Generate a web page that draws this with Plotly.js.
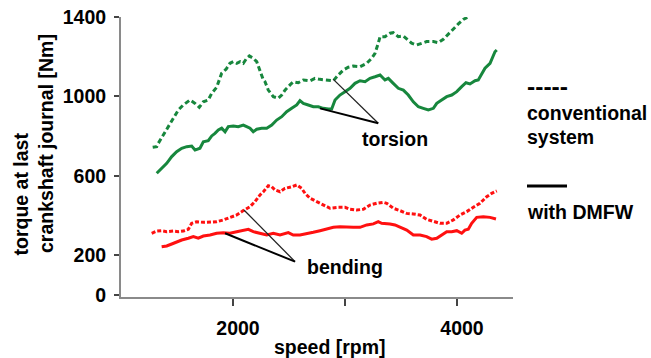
<!DOCTYPE html>
<html><head><meta charset="utf-8">
<script src="https://cdn.plot.ly/plotly-3.0.1.min.js"></script>
<style>html,body{margin:0;padding:0;background:#fff;}#chart{width:651px;height:358px;}</style>
</head><body><div id="chart"></div>
<script>
// ---- data ----
const torsionConvRpm = [1283,1319,1333,1378,1422,1467,1512,1556,1616,1661,1699,1735,1779,1810,1854,1899,1938,1973,2003,2033,2063,2092,2122,2146,2181,2212,2241,2271,2286,2315,2360,2404,2435,2464,2509,2538,2583,2628,2688,2732,2777,2837,2896,2940,2985,3029,3074,3134,3194,3238,3268,3297,3313,3357,3402,3431,3476,3521,3565,3595,3640,3685,3729,3789,3833,3878,3922,3967,4012,4056,4092];
const torsionConvNm = [744,747,764,806,848,890,932,957,982,965,945,973,982,1016,1046,1117,1137,1167,1175,1167,1175,1167,1192,1204,1192,1175,1133,1083,1074,1032,999,991,1007,1032,1058,1074,1069,1083,1079,1091,1086,1083,1079,1108,1133,1147,1153,1150,1167,1192,1217,1268,1301,1301,1318,1321,1301,1304,1284,1268,1259,1268,1276,1276,1271,1288,1314,1343,1365,1388,1398];

const torsionDmfwRpm = [1319,1363,1408,1453,1497,1542,1587,1631,1661,1705,1735,1779,1810,1839,1869,1899,1929,1958,2003,2047,2092,2122,2152,2181,2212,2256,2301,2346,2390,2435,2479,2524,2569,2598,2628,2672,2717,2762,2806,2851,2881,2911,2955,3000,3045,3089,3134,3179,3223,3268,3313,3357,3387,3431,3476,3521,3565,3610,3655,3699,3744,3789,3819,3863,3908,3953,3998,4042,4080,4116,4161,4190,4221,4250,4295,4324,4339,4355];
const torsionDmfwNm = [613,638,663,697,722,739,747,750,730,739,772,777,801,814,831,840,822,848,851,848,856,848,840,822,835,840,840,856,881,898,923,940,957,979,965,957,948,948,940,937,937,982,1007,1024,1041,1066,1079,1074,1091,1099,1108,1083,1091,1066,1041,1032,1007,973,948,940,932,940,965,982,999,1007,1024,1049,1069,1063,1079,1083,1117,1142,1167,1200,1225,1234];

const bendingConvRpm = [1274,1319,1363,1408,1467,1512,1556,1601,1631,1676,1735,1795,1854,1913,1973,2033,2092,2152,2196,2241,2271,2315,2346,2375,2420,2464,2524,2569,2613,2643,2688,2747,2806,2866,2940,3000,3045,3104,3164,3223,3283,3342,3372,3431,3491,3551,3610,3670,3729,3789,3848,3908,3967,4027,4087,4146,4205,4265,4310,4355];
const bendingConvNm = [311,322,324,319,322,319,322,331,361,369,366,366,369,378,389,403,425,445,470,504,520,550,545,529,520,537,545,554,537,512,487,470,453,437,442,442,432,428,432,453,462,467,462,437,425,411,408,403,381,369,361,361,378,403,420,442,462,495,512,524];

const bendingDmfwRpm = [1363,1408,1453,1497,1542,1601,1646,1690,1735,1795,1854,1913,1973,2033,2092,2137,2181,2241,2301,2360,2420,2494,2538,2598,2658,2717,2777,2837,2896,2955,3015,3074,3134,3194,3253,3297,3327,3357,3402,3446,3491,3551,3610,3670,3729,3774,3819,3863,3908,3953,3998,4042,4071,4101,4131,4176,4235,4295,4348];
const bendingDmfwNm = [243,247,257,268,277,286,294,286,297,302,311,314,311,319,327,331,319,311,302,311,302,314,302,302,311,316,324,332,341,344,341,341,341,353,358,369,361,361,358,353,341,327,302,302,294,281,286,302,319,319,324,311,327,331,361,391,394,391,383];

// leader lines: [end on dashed curve, label apex, end on solid curve]
const torsionLeaderRpm = [2896, 3297, 2777];
const torsionLeaderNm  = [1086, 865, 940];
const bendingLeaderRpm = [2098, 2554, 1929];
const bendingLeaderNm  = [428, 168, 311];

const yTickVals = [0, 200, 600, 1000, 1400];
const yTickText = ['0', '200', '600', '1000', '1400'];
const xTickVals = [2000, 3000, 4000];
const xTickText = ['2000', '', '4000'];

const labelTexts = {torsion: 'torsion', bending: 'bending'};
const labelPosRpm = [3446, 3000];
const labelPosNm  = [786, 141];

// ---- styling ----
const FONT = 'Liberation Sans, Arial, Helvetica, sans-serif';
const FS = 19.5;
const GREEN = '#17873d';
const RED = '#ff1010';
const L = 121, R = 138, T = 17, B = 61, W = 651, H = 358;
const PW = W - L - R, PH = H - T - B;
const px = x => (x - L) / PW;
const py = y => (H - B - y) / PH;

const traces = [
  {x: torsionConvRpm, y: torsionConvNm, mode: 'lines', line: {color: GREEN, width: 3, dash: '5px,3px'}},
  {x: torsionDmfwRpm, y: torsionDmfwNm, mode: 'lines', line: {color: GREEN, width: 3}},
  {x: bendingConvRpm, y: bendingConvNm, mode: 'lines', line: {color: RED, width: 3, dash: '4px,2px'}},
  {x: bendingDmfwRpm, y: bendingDmfwNm, mode: 'lines', line: {color: RED, width: 3}}
];

function leader(xs, ys, i, w, c) {
  return {type: 'line', xref: 'x', yref: 'y', x0: xs[1], y0: ys[1], x1: xs[i], y1: ys[i], line: {color: c, width: w}};
}
const shapes = [
  leader(torsionLeaderRpm, torsionLeaderNm, 0, 1.3, '#222'),
  leader(torsionLeaderRpm, torsionLeaderNm, 2, 2, '#000'),
  leader(bendingLeaderRpm, bendingLeaderNm, 0, 1.3, '#222'),
  leader(bendingLeaderRpm, bendingLeaderNm, 2, 2, '#000'),
  {type: 'line', xref: 'paper', yref: 'paper', x0: px(527), x1: px(567), y0: py(186), y1: py(186), line: {color: '#000', width: 3}}
];

const f = (s) => ({family: FONT, size: s || FS, color: '#000', weight: 700});
function note(x, y, text, opts) {
  return Object.assign({xref: 'paper', yref: 'paper', x: px(x), y: py(y), text: text,
    showarrow: false, xanchor: 'center', yanchor: 'middle', font: f()}, opts || {});
}
const annotations = [
  {xref: 'x', yref: 'y', x: labelPosRpm[0], y: labelPosNm[0], text: labelTexts.torsion, showarrow: false, xanchor: 'center', yanchor: 'middle', font: f()},
  {xref: 'x', yref: 'y', x: labelPosRpm[1], y: labelPosNm[1], text: labelTexts.bending, showarrow: false, xanchor: 'center', yanchor: 'middle', font: f()},
  note(330, 347, 'speed [rpm]'),
  note(20, 194.5, 'torque at last', {textangle: -90}),
  note(46, 144, 'crankshaft journal [Nm]', {textangle: -90}),
  note(525, 86, '-----', {xanchor: 'left', font: f(24.6)}),
  note(525, 113, 'conventional', {xanchor: 'left'}),
  note(525, 137, 'system', {xanchor: 'left'}),
  note(525, 212, 'with DMFW', {xanchor: 'left'})
];

const layout = {
  width: W, height: H,
  margin: {l: L, r: R, t: T, b: B, pad: 0},
  paper_bgcolor: '#fff', plot_bgcolor: '#fff',
  showlegend: false,
  xaxis: {
    range: [1000, 4500], showgrid: false, zeroline: false,
    showline: true, linecolor: '#8a8a8a', linewidth: 2,
    ticks: 'outside', ticklen: 7, tickwidth: 2, tickcolor: '#444',
    tickvals: xTickVals, ticktext: xTickText,
    tickfont: f(), ticklabelstandoff: 6, ticklabelshift: 5
  },
  yaxis: {
    range: [-10, 1400], showgrid: false, zeroline: false,
    showline: true, linecolor: '#8a8a8a', linewidth: 2,
    ticks: 'outside', ticklen: 5, tickwidth: 2, tickcolor: '#444',
    tickvals: yTickVals, ticktext: yTickText,
    tickfont: f(), ticklabelstandoff: 4
  },
  shapes: shapes,
  annotations: annotations
};

Plotly.newPlot('chart', traces, layout, {staticPlot: true, displayModeBar: false});
</script>
</body></html>
